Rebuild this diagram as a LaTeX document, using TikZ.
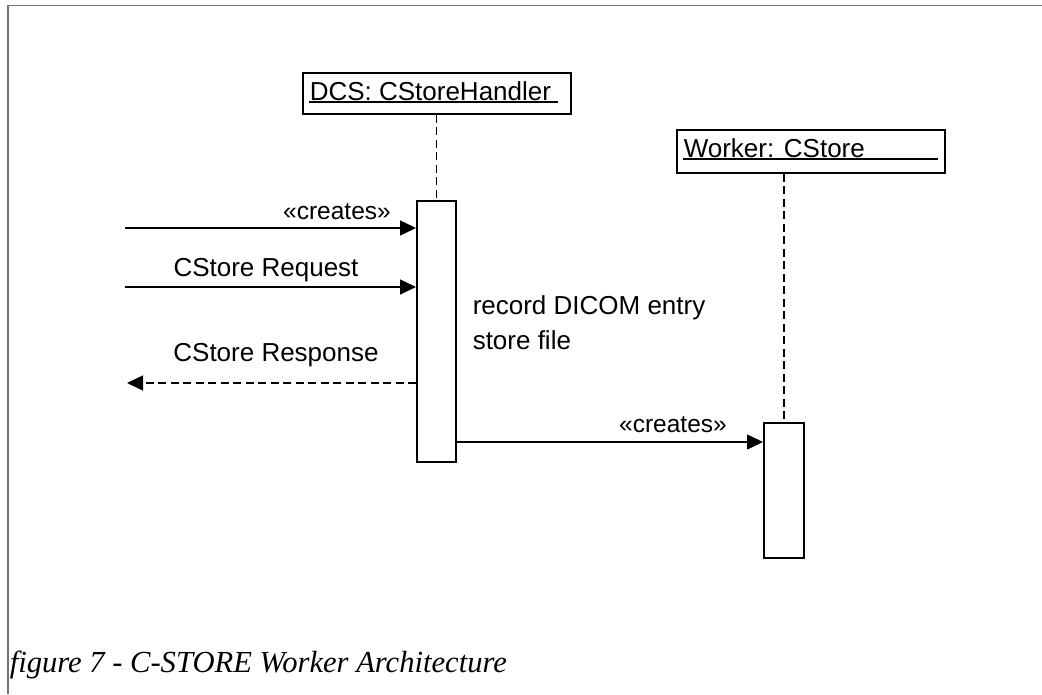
\documentclass[tikz,border=0pt]{standalone}
\usepackage{fontspec}
\setmainfont{Liberation Serif}
\setsansfont{Liberation Sans}
\usetikzlibrary{arrows.meta}

\tikzset{
  objbox/.style={draw, line width=1.8pt, anchor=north west, inner sep=0pt},
  actbox/.style={draw, line width=1.5pt, anchor=north west, inner sep=0pt},
  lifeline/.style={dashed, dash pattern=on 8pt off 4.5pt},
  msglabel/.style={inner sep=1pt},
  stereo/.style={msglabel, font=\sffamily\fontsize{24.5}{28}\selectfont}
}

\begin{document}
\begin{tikzpicture}[x=1pt, y=-1pt, line width=1.5pt,
  every node/.style={font=\sffamily\fontsize{26}{30}\selectfont},
  >={Triangle[length=16pt,width=15pt]}]
	\useasboundingbox (0,0) rectangle (1042,694);
	% page frame
	\draw[gray!110, line width=1.6pt] (8,694) -- (8,5.5) -- (1042,5.5);
	% objects
	\node[objbox, minimum width=268, minimum height=41] (dcs) at (302,72) {};
	\node[anchor=west, inner sep=0pt] (dcsname) at (309,91) {DCS: CStoreHandler};
	\draw (309,102) -- (558,102);
	\node[objbox, minimum width=268, minimum height=43] (wrk) at (676,129) {};
	\node[anchor=west, inner sep=0pt] (wrkname) at (683,148) {Worker: CStore};
	\draw (683,159) -- (938,159);
	% activations
	\node[actbox, minimum width=39, minimum height=261] (act1) at (416,200) {};
	\node[actbox, minimum width=40, minimum height=135] (act2) at (763,422) {};
	\draw[lifeline] (dcs.south -| act1.north) -- (act1.north);
	\draw[lifeline] (wrk.south -| act2.north) -- (act2.north);
	% messages
	\coordinate (src1) at (125,228);
	\coordinate (src2) at (125,287);
	\coordinate (dst3) at (127,383);
	\draw[->] (src1) -- (src1 -| act1.west);
	\node[stereo] (lcreate1) at (337,212) {«creates»};
	\draw[->] (src2) -- (src2 -| act1.west);
	\node[msglabel] (lreq) at (266,270) {CStore Request};
	\draw[->, lifeline] (dst3 -| act1.west) -- (dst3);
	\node[msglabel] (lresp) at (276,355) {CStore Response};
	\draw[->] (act1.west |- 0,442) ++(39,0) -- (act2.west |- 0,442);
	\node[stereo] (lcreate2) at (673,425) {«creates»};
	% note
	\node[anchor=west, inner sep=0pt] (note1) at (472,308) {record DICOM entry};
	\node[anchor=west, inner sep=0pt] (note2) at (472,340) {store file};
	% caption
	\node[anchor=base west, inner sep=0pt, font=\rmfamily\itshape\fontsize{30.6}{36}\selectfont] (caption) at (9,672) {figure 7 - C-STORE Worker Architecture};
\end{tikzpicture}
\end{document}
